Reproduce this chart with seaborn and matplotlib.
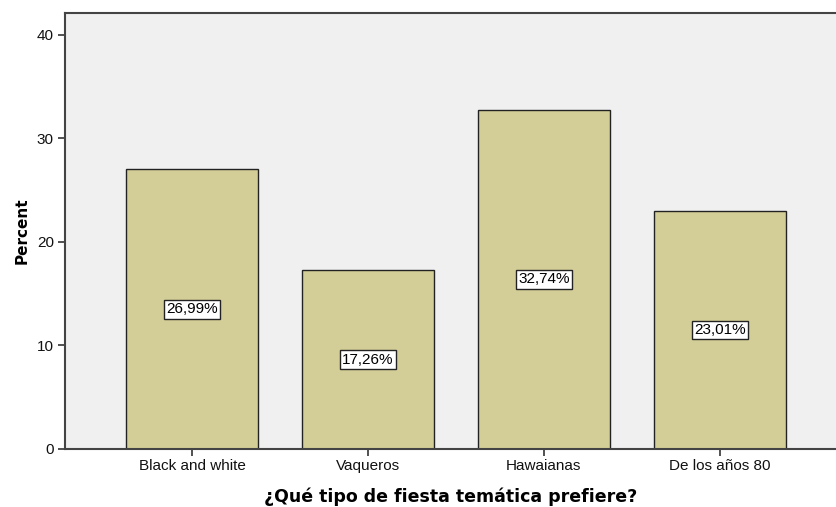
import matplotlib
matplotlib.use("Agg")
import matplotlib.pyplot as plt
import seaborn as sns
import pandas as pd

categories = ["Black and white", "Vaqueros", "Hawaianas", "De los años 80"]
percent = [26.99, 17.26, 32.74, 23.01]
value_labels = ["26,99%", "17,26%", "32,74%", "23,01%"]
y_ticks = [0, 10, 20, 30, 40]

df = pd.DataFrame({"cat": categories, "pct": percent})

sns.set_theme(style="white")
plt.rcParams["font.family"] = ["Liberation Sans", "DejaVu Sans"]

fig = plt.figure(figsize=(8.36, 5.07), dpi=100)
ax = fig.add_axes([65 / 836, 58 / 507, 771 / 836, 436 / 507])
ax.set_facecolor("#F0F0F0")

sns.barplot(data=df, x="cat", y="pct", color="#D3CE97", saturation=1,
            width=0.75, edgecolor="#222222", linewidth=1.0, ax=ax)

for i, (v, lab) in enumerate(zip(percent, value_labels)):
    ax.text(i, v / 2, lab, ha="center", va="center", fontsize=11, color="black",
            bbox=dict(boxstyle="square,pad=0.15", facecolor="white", edgecolor="#222222", linewidth=1.0))

ax.set_xlim(-0.7216, 3.66)
ax.set_ylim(0, 42.1)
ax.set_yticks(y_ticks)
ax.set_yticklabels([str(t) for t in y_ticks], fontsize=11, color="#111111")
ax.tick_params(axis="x", labelsize=11, labelcolor="#111111")
ax.tick_params(axis="both", direction="out", length=5, width=1.2, color="#333333",
               bottom=True, left=True, pad=2)
ax.tick_params(axis="y", pad=3)

for side in ["left", "bottom", "top"]:
    ax.spines[side].set_visible(True)
    ax.spines[side].set_color("#444444")
    ax.spines[side].set_linewidth(1.5)
ax.spines["right"].set_visible(False)

ax.set_xlabel("¿Qué tipo de fiesta temática prefiere?", fontsize=12.5, fontweight="bold",
              family=["DejaVu Sans"], labelpad=11, color="black")
ax.set_ylabel("Percent", fontsize=11, fontweight="bold", family=["DejaVu Sans"], labelpad=5,
              color="black")

fig.savefig("out.png", dpi=100)
